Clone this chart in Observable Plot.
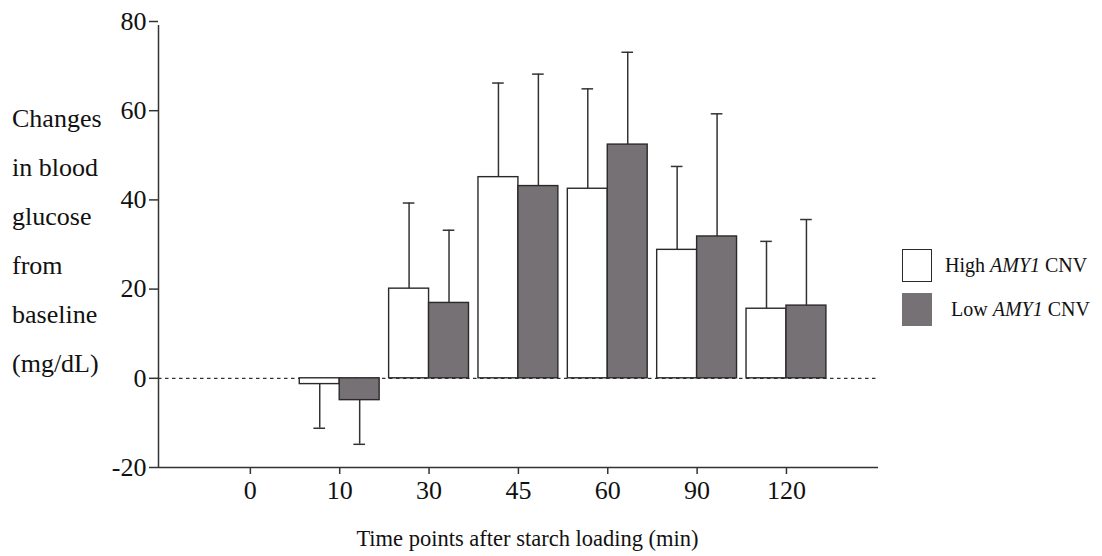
<!DOCTYPE html>
<html>
<head>
<meta charset="utf-8">
<script src="https://cdn.jsdelivr.net/npm/d3@7"></script>
<script src="https://cdn.jsdelivr.net/npm/@observablehq/plot@0.6"></script>
<style>
  html, body { margin: 0; padding: 0; background: #fff; }
  #wrap { position: relative; width: 1102px; height: 556px; font-family: "Liberation Serif", "Times New Roman", serif; color: #111; }
  #ylab { position: absolute; left: 12px; top: 94px; font-size: 26px; line-height: 49px; }
  #legend { position: absolute; left: 902px; top: 249px; font-size: 20px; }
  .lg { position: absolute; display: flex; align-items: center; white-space: nowrap; }
  .sw { width: 30px; height: 33px; box-sizing: border-box; }
</style>
</head>
<body>
<div id="wrap">
  <div id="chart"></div>
  <div id="ylab">Changes<br>in blood<br>glucose<br>from<br>baseline<br>(mg/dL)</div>
  <div id="legend"></div>
</div>
<script>
// Time points (x categories)
const times = ["0", "10", "30", "45", "60", "90", "120"];
const groups = ["High AMY1 CNV", "Low AMY1 CNV"];
// Mean change from baseline (mg/dL); no bars at time 0
const highMean = [null, -1.3, 20.1, 45.1, 42.5, 28.8, 15.6];
const lowMean  = [null, -4.9, 16.9, 43.1, 52.4, 31.8, 16.3];
// Error (SD) values
const highSD = [null, 9.9, 19.2, 21.1, 22.4, 18.7, 15.1];
const lowSD  = [null, 9.9, 16.3, 25.1, 20.7, 27.5, 19.3];
const yTicks = [-20, 0, 20, 40, 60, 80];
const xTitle = "Time points after starch loading (min)";

const fills = ["#ffffff", "#767174"];
const barW = 0.447;

const rows = [];
times.forEach((t, i) => {
  [[highMean, highSD], [lowMean, lowSD]].forEach(([m, s], g) => {
    if (m[i] == null) return;
    rows.push({i, time: t, g, group: groups[g], mean: m[i], sd: s[i]});
  });
});
const x1 = d => d.i + (d.g === 0 ? -barW : 0);
const x2 = d => d.i + (d.g === 0 ? 0 : barW);
const xc = d => d.i + (d.g === 0 ? -barW / 2 : barW / 2);
const yEnd = d => d.mean + (d.mean < 0 ? -d.sd : d.sd);
const cap = 0.065;

const xDomain = [-1.028, 7.03];

const plot = Plot.plot({
  width: 1102,
  height: 556,
  marginLeft: 158,
  marginRight: 224,
  marginTop: 21,
  marginBottom: 89,
  style: {fontFamily: "'Liberation Serif', 'Times New Roman', serif", color: "#111", background: "#fff"},
  x: {type: "linear", domain: xDomain},
  y: {domain: [-20, 80]},
  marks: [
    Plot.ruleY([0], {stroke: "#333", strokeWidth: 1.2, strokeDasharray: "3.5,3.5"}),
    Plot.ruleX(rows, {x: xc, y1: "mean", y2: yEnd, stroke: "#333", strokeWidth: 1.5}),
    Plot.ruleY(rows, {y: yEnd, x1: d => xc(d) - cap, x2: d => xc(d) + cap, stroke: "#333", strokeWidth: 1.5}),
    Plot.rectY(rows, {x1, x2, y1: 0, y2: "mean", fill: d => fills[d.g], stroke: "#2a2a2a", strokeWidth: 1.4}),
    Plot.ruleY([-20], {stroke: "#333", strokeWidth: 1.5}),
    Plot.ruleX([xDomain[0]], {y1: -20, y2: 80, insetBottom: -4, stroke: "#333", strokeWidth: 1.5}),
    Plot.axisY({ticks: yTicks, tickFormat: d => String(d), tickSize: 9, tickPadding: 3, fontSize: 26, label: null, stroke: "#333", strokeWidth: 1.5}),
    Plot.axisX({ticks: d3.range(times.length), tickFormat: i => times[i], tickSize: 7, tickPadding: 6, fontSize: 26, label: null, stroke: "#333", strokeWidth: 1.5}),
    Plot.text([xTitle], {text: d => d, frameAnchor: "bottom", lineAnchor: "middle", dx: 9, dy: 71, fontSize: 22.5, fill: "#111"})
  ]
});
document.getElementById("chart").appendChild(plot);

const leg = document.getElementById("legend");
const legTop = [0, 44];
const legIndent = [10, 16];
groups.forEach((g, k) => {
  const row = document.createElement("div");
  row.className = "lg";
  row.style.top = legTop[k] + "px";
  const sw = document.createElement("div");
  sw.className = "sw";
  sw.style.background = fills[k];
  sw.style.border = k === 0 ? "1.5px solid #2a2a2a" : "none";
  const tx = document.createElement("span");
  tx.style.marginLeft = (legIndent[k] + 3) + "px";
  const parts = g.split("AMY1");
  tx.innerHTML = parts[0] + "<i>AMY1</i>" + parts[1];
  row.appendChild(sw);
  row.appendChild(tx);
  leg.appendChild(row);
});
</script>
</body>
</html>
